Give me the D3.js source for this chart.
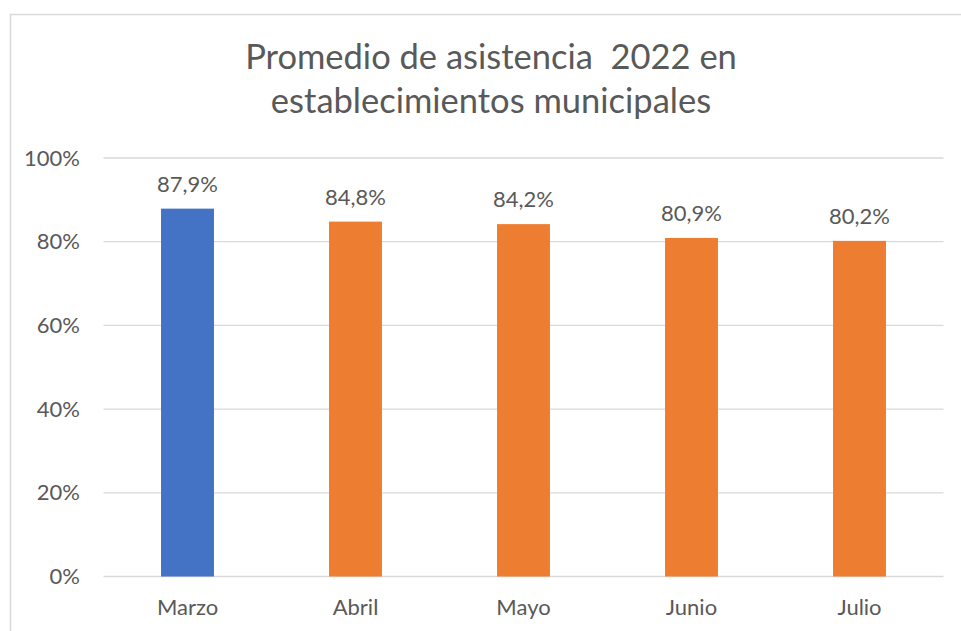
<!DOCTYPE html>
<html>
<head>
<meta charset="utf-8">
<script src="https://cdn.jsdelivr.net/npm/d3@7"></script>
<style>
  html, body { margin: 0; padding: 0; background: #fff; }
  svg { display: block; }
  text { font-family: Lato, "Noto Sans", sans-serif; fill: #595959; white-space: pre; }
</style>
</head>
<body>
<svg id="chart" width="961" height="631"></svg>
<script>
const categories = ["Marzo", "Abril", "Mayo", "Junio", "Julio"];
const values = [0.879, 0.848, 0.842, 0.809, 0.802];
const valueLabels = ["87,9%", "84,8%", "84,2%", "80,9%", "80,2%"];
const barColors = ["#4472C4", "#ED7D31", "#ED7D31", "#ED7D31", "#ED7D31"];
const yTicks = [0, 0.2, 0.4, 0.6, 0.8, 1.0];
const yTickLabels = ["0%", "20%", "40%", "60%", "80%", "100%"];
const titleLines = ["Promedio de asistencia  2022 en", "establecimientos municipales"];

const svg = d3.select("#chart");

// outer frame
svg.append("rect")
  .attr("x", 10.5).attr("y", 14.5)
  .attr("width", 1000).attr("height", 700)
  .attr("fill", "#fff")
  .attr("stroke", "#d9d9d9").attr("stroke-width", 1.5);

const x = d3.scaleBand().domain(categories).range([103.5, 943.5]).paddingInner(0.685).paddingOuter(0.3425);
const y = d3.scaleLinear().domain([0, 1]).range([576.5, 158]);

// gridlines
svg.append("g").selectAll("line").data(yTicks).join("line")
  .attr("x1", 103.5).attr("x2", 943.5)
  .attr("y1", d => y(d)).attr("y2", d => y(d))
  .attr("stroke", "#d9d9d9").attr("stroke-width", 1.3);

// y tick labels
svg.append("g").selectAll("text").data(yTicks).join("text")
  .attr("x", 80).attr("y", d => y(d) + 7.5)
  .attr("text-anchor", "end")
  .style("font-size", "22px")
  .text((d, i) => yTickLabels[i]);

// bars
svg.append("g").selectAll("rect").data(values).join("rect")
  .attr("x", (d, i) => x(categories[i]))
  .attr("width", x.bandwidth())
  .attr("y", d => y(d))
  .attr("height", d => y(0) - y(d))
  .attr("fill", (d, i) => barColors[i]);

// data labels
svg.append("g").selectAll("text").data(values).join("text")
  .attr("x", (d, i) => x(categories[i]) + x.bandwidth() / 2)
  .attr("y", d => y(d) - 17)
  .attr("text-anchor", "middle")
  .style("font-size", "22px")
  .text((d, i) => valueLabels[i]);

// category labels
svg.append("g").selectAll("text").data(categories).join("text")
  .attr("x", d => x(d) + x.bandwidth() / 2)
  .attr("y", 615)
  .attr("text-anchor", "middle")
  .style("font-size", "22px")
  .text(d => d);

// title
svg.append("g").selectAll("text").data(titleLines).join("text")
  .attr("x", 491)
  .attr("y", (d, i) => 69 + i * 44)
  .attr("text-anchor", "middle")
  .style("font-size", "34.5px")
  .text(d => d);
</script>
</body>
</html>
